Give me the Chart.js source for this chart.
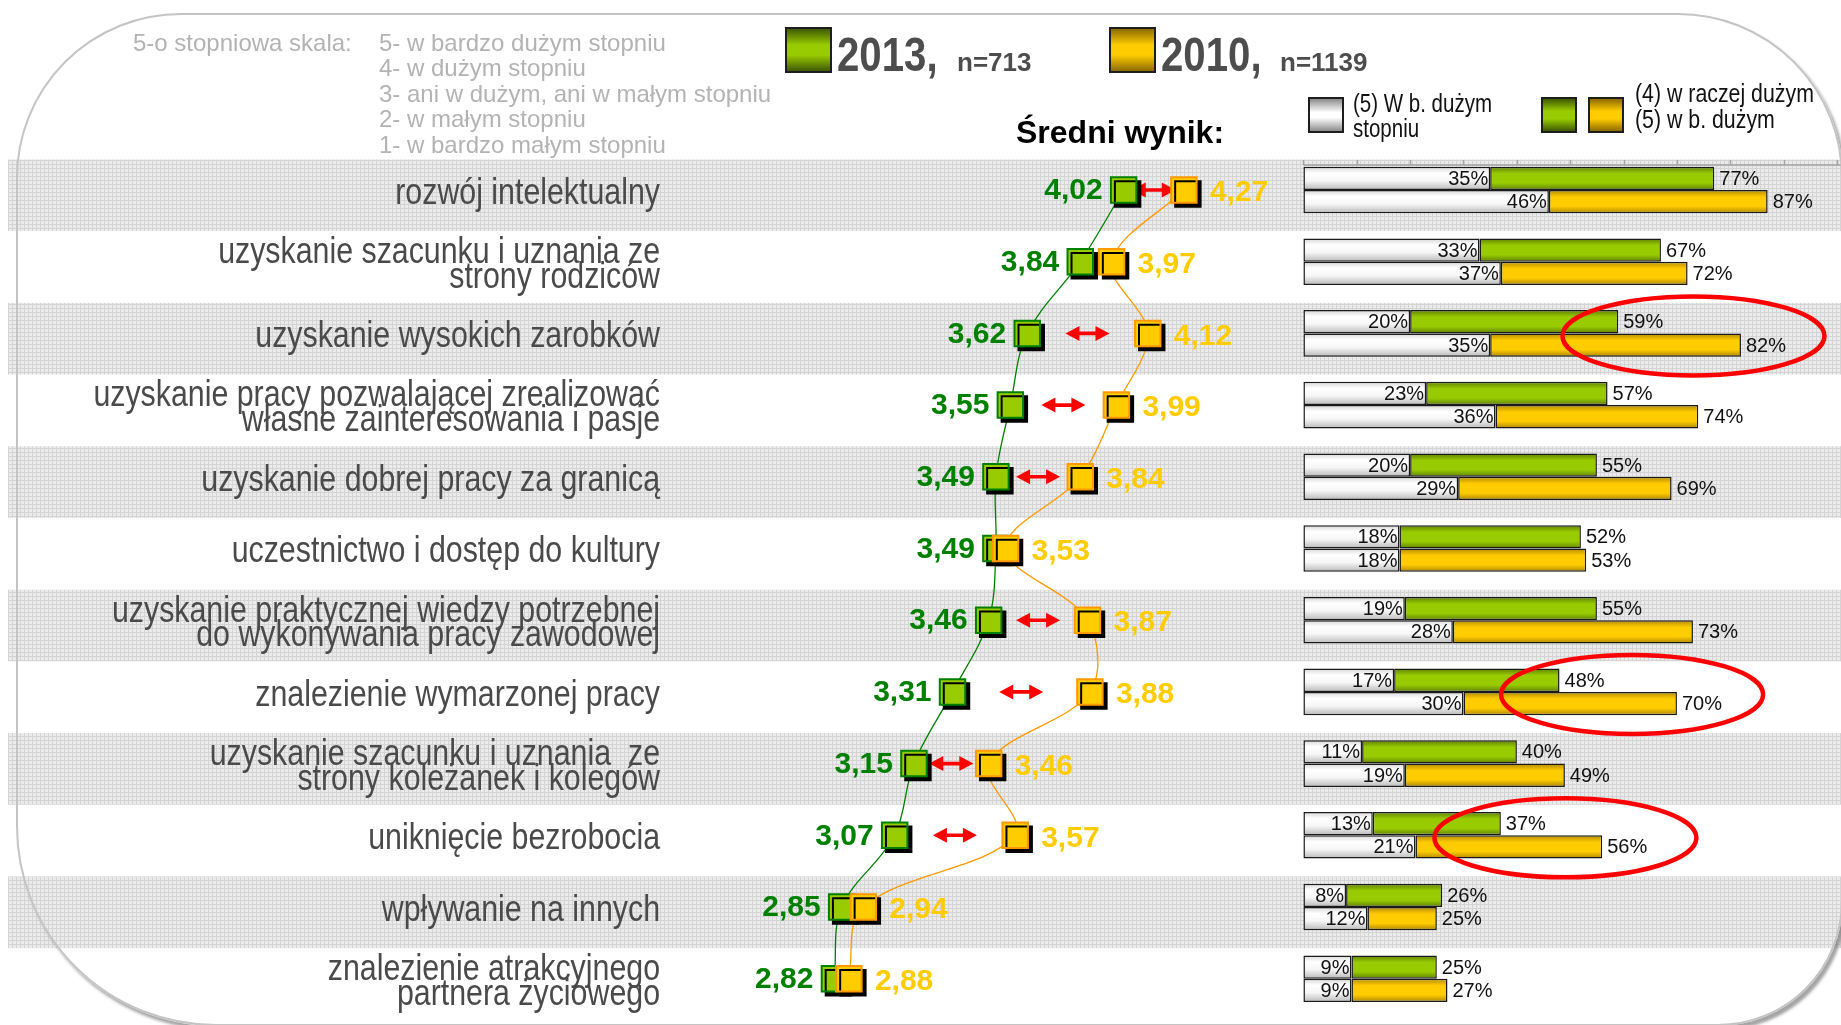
<!DOCTYPE html>
<html lang="pl">
<head>
<meta charset="utf-8">
<title>Średni wynik 2013 vs 2010</title>
<script src="https://cdn.jsdelivr.net/npm/chart.js"></script>
<style>
html,body{margin:0;padding:0;background:#fff;width:1841px;height:1025px;overflow:hidden;}
#stage{position:relative;width:1841px;height:1025px;}
#chart{position:absolute;left:0;top:0;z-index:1;}
#frame{position:absolute;left:16px;top:13px;width:1827px;height:1013px;box-sizing:border-box;border:2px solid #c4c4c4;border-radius:165px 165px 125px 200px;box-shadow:3px 4px 3px rgba(90,90,90,.55);pointer-events:none;z-index:2;}
.t{position:absolute;white-space:pre;z-index:3;transform-origin:0 0;}
.sq{position:absolute;box-sizing:border-box;border:2px solid #1e1e1e;z-index:3;}
</style>
</head>
<body>
<div id="stage"><canvas id="chart" width="1841" height="1025"></canvas><div id="frame"></div></div>
<script>
// ---------------- DATA ----------------
const categories = [
  'rozwój intelektualny',
  ['uzyskanie szacunku i uznania ze', 'strony rodziców'],
  'uzyskanie wysokich zarobków',
  ['uzyskanie pracy pozwalającej zrealizować', 'własne zainteresowania i pasje'],
  'uzyskanie dobrej pracy za granicą',
  'uczestnictwo i dostęp do kultury',
  ['uzyskanie praktycznej wiedzy potrzebnej', 'do wykonywania pracy zawodowej'],
  'znalezienie wymarzonej pracy',
  ['uzyskanie szacunku i uznania  ze', 'strony koleżanek i kolegów'],
  'uniknięcie bezrobocia',
  'wpływanie na innych',
  ['znalezienie atrakcyjnego', 'partnera życiowego']
];
const mean2013 = [4.02, 3.84, 3.62, 3.55, 3.49, 3.49, 3.46, 3.31, 3.15, 3.07, 2.85, 2.82];
const mean2010 = [4.27, 3.97, 4.12, 3.99, 3.84, 3.53, 3.87, 3.88, 3.46, 3.57, 2.94, 2.88];
const significantChange = [true, false, true, true, true, false, true, true, true, true, false, false];
const veryHigh2013 = [35, 33, 20, 23, 20, 18, 19, 17, 11, 13, 8, 9];
const high2013     = [77, 67, 59, 57, 55, 52, 55, 48, 40, 37, 26, 25];
const veryHigh2010 = [46, 37, 35, 36, 29, 18, 28, 30, 19, 21, 12, 9];
const high2010     = [87, 72, 82, 74, 69, 53, 73, 70, 49, 56, 25, 27];
const highlightedRows = [2, 7, 9];
const barTicks = [0, 10, 20, 30, 40, 50, 60, 70, 80, 90, 100];
const years = ['2013', '2010'];
const sampleSizes = [713, 1139];
const scaleTitle = '5-o stopniowa skala:';
const scaleLevels = ['5- w bardzo dużym stopniu', '4- w dużym stopniu', '3- ani w dużym, ani w małym stopniu', '2- w małym stopniu', '1- w bardzo małym stopniu'];
const meanTitle = 'Średni wynik:';
const legendWhite = ['(5) W b. dużym', 'stopniu'];
const legendColour = ['(4) w raczej dużym', '(5) w b. dużym'];

// ---------------- FONTS ----------------
function hasFont(name) {
  const c = document.createElement('canvas').getContext('2d');
  const s = 'rozwój intelektualny WWW 0123';
  c.font = '40px monospace'; const a = c.measureText(s).width;
  c.font = '40px "' + name + '", monospace'; const b = c.measureText(s).width;
  return Math.abs(a - b) > 0.5;
}
const NARROW_OK = hasFont('Liberation Sans Narrow');
const FONT_REG = '"Liberation Sans", Arial, sans-serif';
const FONT_NAR = NARROW_OK ? '"Liberation Sans Narrow", "Arial Narrow", sans-serif' : FONT_REG;
const SX = NARROW_OK ? 1 : 0.82;   // horizontal squeeze when no narrow face exists

// ---------------- HEADER (HTML text) ----------------
const stage = document.getElementById('stage');
function addText(txt, left, baseline, size, family, weight, color, sx) {
  const d = document.createElement('div');
  d.className = 't';
  d.textContent = txt;
  d.style.font = (weight || 'normal') + ' ' + size + 'px ' + family;
  d.style.lineHeight = '0';
  d.style.color = color;
  d.style.left = left + 'px';
  d.style.top = (baseline - 0.3465 * size) + 'px';
  if (sx && sx !== 1) d.style.transform = 'scaleX(' + sx + ')';
  stage.appendChild(d);
}
function addSquare(left, top, w, h, bg) {
  const d = document.createElement('div');
  d.className = 'sq';
  Object.assign(d.style, {left: left + 'px', top: top + 'px', width: w + 'px', height: h + 'px', background: bg});
  stage.appendChild(d);
}
const G_GREEN = 'linear-gradient(#3f5a00, #99cc00 38%, #99cc00 62%, #3f5a00)';
const G_ORANGE = 'linear-gradient(#8c6b00, #ffcc00 38%, #ffcc00 62%, #8c6b00)';
const G_WHITE = 'linear-gradient(#8c8c8c, #ffffff 42%, #ffffff 58%, #8c8c8c)';

addText(scaleTitle, 133, 51, 24, FONT_REG, 'normal', '#b3b3b3');
scaleLevels.forEach((s, k) => addText(s, 379, 51 + k * 25.5, 24, FONT_REG, 'normal', '#b3b3b3'));

addSquare(785, 27, 47, 46, G_GREEN);
addText(years[0] + ',', 837, 71, 49, FONT_NAR, 'bold', '#4d4d4d', SX);
addText('n=' + sampleSizes[0], 957, 71.5, 26, FONT_REG, 'bold', '#4d4d4d');
addSquare(1109, 27, 47, 46, G_ORANGE);
addText(years[1] + ',', 1161, 71, 49, FONT_NAR, 'bold', '#4d4d4d', SX);
addText('n=' + sampleSizes[1], 1280, 71.5, 26, FONT_REG, 'bold', '#4d4d4d');

addText(meanTitle, 1016, 143, 32, FONT_REG, 'bold', '#000');

addSquare(1308, 97, 36, 36, G_WHITE);
addText(legendWhite[0], 1353, 112, 25, FONT_NAR, 'normal', '#111', SX);
addText(legendWhite[1], 1353, 137, 25, FONT_NAR, 'normal', '#111', SX);
addSquare(1541, 97, 36, 36, G_GREEN);
addSquare(1588, 97, 36, 36, G_ORANGE);
addText(legendColour[0], 1635, 102, 26, FONT_NAR, 'normal', '#111', SX);
addText(legendColour[1], 1635, 128, 26, FONT_NAR, 'normal', '#111', SX);

// ---------------- CHART ----------------
const WHITE_STOPS = [[0, '#d6d6d6'], [0.28, '#ffffff'], [0.6, '#f6f6f6'], [1, '#b8b8b8']];
const GREEN_STOPS = [[0, '#5f8000'], [0.3, '#99cc00'], [0.7, '#99cc00'], [1, '#5f8000']];
const ORANGE_STOPS = [[0, '#b38a00'], [0.3, '#ffcc00'], [0.7, '#ffcc00'], [1, '#ad8500']];
const CAT_PCT = 0.65;

function barGradient(stops, slot) {
  return (c) => {
    const chart = c.chart;
    if (c.type !== 'data' || !chart.chartArea || !chart.scales.y) return stops[1][1];
    const ys = chart.scales.y;
    const pitch = ys.getPixelForValue(1) - ys.getPixelForValue(0);
    const h = pitch * CAT_PCT / 2;
    const center = ys.getPixelForValue(c.dataIndex);
    const top = slot === 0 ? center - h : center;
    const g = chart.ctx.createLinearGradient(0, top, 0, top + h);
    stops.forEach(s => g.addColorStop(s[0], s[1]));
    return g;
  };
}
const MARKER_SETS = new Set([2, 3]);

let bandPattern = null;
function makePattern(ctx) {
  const pc = document.createElement('canvas'); pc.width = 4; pc.height = 4;
  const p = pc.getContext('2d');
  p.fillStyle = '#ebebeb'; p.fillRect(0, 0, 4, 4);
  p.fillStyle = '#d4d4d4'; p.fillRect(0, 0, 4, 1); p.fillRect(0, 0, 1, 4);
  return ctx.createPattern(pc, 'repeat');
}

const decorPlugin = {
  id: 'decor',
  beforeDraw(chart) {
    const ctx = chart.ctx, ys = chart.scales.y;
    const pitch = ys.getPixelForValue(1) - ys.getPixelForValue(0);
    if (!bandPattern) bandPattern = makePattern(ctx);
    ctx.save();
    ctx.fillStyle = bandPattern;
    categories.forEach((c, i) => {
      if (i % 2) return;
      const top = ys.getPixelForValue(i) - pitch / 2 + 5.3;
      ctx.fillRect(8, top, chart.width - 8, pitch);
    });
    // category labels (right aligned against the axis)
    ctx.fillStyle = '#4a4a4a';
    ctx.font = '37px ' + FONT_NAR;
    ctx.textAlign = 'right';
    ctx.textBaseline = 'middle';
    const lh = 24.7, right = chart.chartArea.left - 25;
    categories.forEach((c, i) => {
      const lines = Array.isArray(c) ? c : [c];
      const y0 = ys.getPixelForValue(i) - (lines.length - 1) * lh / 2 + 3.5;
      lines.forEach((ln, k) => {
        ctx.save();
        ctx.translate(right, y0 + k * lh);
        ctx.scale(SX, 1);
        ctx.fillText(ln, 0, 0);
        ctx.restore();
      });
    });
    ctx.restore();
  },
  beforeDatasetsDraw(chart) {
    const ctx = chart.ctx, xb = chart.scales.xb, xd = chart.scales.xd, ys = chart.scales.y;
    const axisY = chart.chartArea.top + 10.8;
    ctx.save();
    ctx.strokeStyle = '#a3a3a3'; ctx.lineWidth = 1.5;
    ctx.beginPath();
    ctx.moveTo(xb.getPixelForValue(0), axisY); ctx.lineTo(chart.width, axisY);
    barTicks.forEach(t => { const x = Math.round(xb.getPixelForValue(t)) + 0.5; ctx.moveTo(x, axisY); ctx.lineTo(x, axisY - 5); });
    ctx.stroke();
    ctx.fillStyle = '#ff0000';
    significantChange.forEach((s, i) => {
      if (!s) return;
      const mid = (xd.getPixelForValue(mean2013[i]) + xd.getPixelForValue(mean2010[i])) / 2;
      const y = ys.getPixelForValue(i);
      const half = 22, head = 14, hh = 7.5, sh = 1.8;
      ctx.beginPath();
      ctx.moveTo(mid - half, y);
      ctx.lineTo(mid - half + head, y - hh);
      ctx.lineTo(mid - half + head, y - sh);
      ctx.lineTo(mid + half - head, y - sh);
      ctx.lineTo(mid + half - head, y - hh);
      ctx.lineTo(mid + half, y);
      ctx.lineTo(mid + half - head, y + hh);
      ctx.lineTo(mid + half - head, y + sh);
      ctx.lineTo(mid - half + head, y + sh);
      ctx.lineTo(mid - half + head, y + hh);
      ctx.closePath();
      ctx.fill();
    });
    ctx.restore();
  },
  beforeDatasetDraw(chart, args) {
    if (MARKER_SETS.has(args.index)) {
      const ctx = chart.ctx;
      ctx.save();
      ctx.shadowColor = '#000'; ctx.shadowOffsetX = 4; ctx.shadowOffsetY = 4; ctx.shadowBlur = 0;
    }
  },
  afterDatasetDraw(chart, args) {
    if (MARKER_SETS.has(args.index)) chart.ctx.restore();
  },
  afterDatasetsDraw(chart) {
    const ctx = chart.ctx, xd = chart.scales.xd, xb = chart.scales.xb, ys = chart.scales.y;
    ctx.save();
    ctx.font = 'bold 30px ' + FONT_REG;
    ctx.textBaseline = 'middle';
    const fmt = v => v.toFixed(2).replace('.', ',');
    mean2013.forEach((v, i) => {
      ctx.fillStyle = '#008000'; ctx.textAlign = 'right';
      ctx.fillText(fmt(v), xd.getPixelForValue(v) - 21, ys.getPixelForValue(i) + 1);
    });
    mean2010.forEach((v, i) => {
      ctx.fillStyle = '#ffcc00'; ctx.textAlign = 'left';
      ctx.fillText(fmt(v), xd.getPixelForValue(v) + 26, ys.getPixelForValue(i) + 3);
    });
    ctx.font = '20px ' + FONT_REG;
    ctx.fillStyle = '#111';
    [[4, 5, veryHigh2013, high2013], [6, 7, veryHigh2010, high2010]].forEach(([wi, ci, p5, tot]) => {
      const wm = chart.getDatasetMeta(wi).data, cm = chart.getDatasetMeta(ci).data;
      p5.forEach((v, i) => {
        ctx.textAlign = 'right'; ctx.fillText(v + '%', wm[i].x - 2, wm[i].y + 1);
        ctx.textAlign = 'left'; ctx.fillText(tot[i] + '%', cm[i].x + 5, cm[i].y + 1);
      });
    });
    ctx.strokeStyle = '#ff0000'; ctx.lineWidth = 4.5;
    highlightedRows.forEach(r => {
      const cx = xb.getPixelForValue((high2013[r] + high2010[r]) / 2 + 2.6);
      const cy = ys.getPixelForValue(r) + 2.5;
      ctx.beginPath(); ctx.ellipse(cx, cy, 131, 39.5, 0, 0, Math.PI * 2); ctx.stroke();
    });
    ctx.restore();
  }
};

new Chart(document.getElementById('chart'), {
  type: 'bar',
  data: {
    labels: categories,
    datasets: [
      {type: 'line', label: 'linia ' + years[0], data: mean2013, xAxisID: 'xd', yAxisID: 'y', indexAxis: 'y',
       borderColor: '#008000', borderWidth: 1.3, pointRadius: 0, tension: 0.35, fill: false, order: 10},
      {type: 'line', label: 'linia ' + years[1], data: mean2010, xAxisID: 'xd', yAxisID: 'y', indexAxis: 'y',
       borderColor: '#ff9900', borderWidth: 1.3, pointRadius: 0, tension: 0.35, fill: false, order: 9},
      {type: 'line', label: years[0], data: mean2013, xAxisID: 'xd', yAxisID: 'y', indexAxis: 'y', showLine: false,
       pointStyle: 'rect', pointRadius: 18, pointBackgroundColor: '#99cc00', pointBorderColor: '#008000', pointBorderWidth: 2, order: 8},
      {type: 'line', label: years[1], data: mean2010, xAxisID: 'xd', yAxisID: 'y', indexAxis: 'y', showLine: false,
       pointStyle: 'rect', pointRadius: 18, pointBackgroundColor: '#ffcc00', pointBorderColor: '#ff9900', pointBorderWidth: 2, order: 7},
      {label: '(5) ' + years[0], data: veryHigh2013, stack: 's' + years[0], xAxisID: 'xb', yAxisID: 'y',
       backgroundColor: barGradient(WHITE_STOPS, 0), order: 0},
      {label: '(4)+(5) ' + years[0], data: high2013.map((t, i) => t - veryHigh2013[i]), stack: 's' + years[0], xAxisID: 'xb', yAxisID: 'y',
       backgroundColor: barGradient(GREEN_STOPS, 0), order: 0},
      {label: '(5) ' + years[1], data: veryHigh2010, stack: 's' + years[1], xAxisID: 'xb', yAxisID: 'y',
       backgroundColor: barGradient(WHITE_STOPS, 1), order: 0},
      {label: '(4)+(5) ' + years[1], data: high2010.map((t, i) => t - veryHigh2010[i]), stack: 's' + years[1], xAxisID: 'xb', yAxisID: 'y',
       backgroundColor: barGradient(ORANGE_STOPS, 1), order: 0}
    ]
  },
  options: {
    indexAxis: 'y',
    responsive: false,
    animation: false,
    devicePixelRatio: 1,
    layout: {autoPadding: false, padding: {top: 154.15, bottom: 10.45, left: 0, right: 4}},
    datasets: {bar: {categoryPercentage: CAT_PCT, barPercentage: 1, borderColor: '#1a1a1a', borderWidth: 1.5, borderSkipped: false}},
    plugins: {legend: {display: false}, tooltip: {enabled: false}},
    scales: {
      y: {
        type: 'category', position: 'left', offset: true, stacked: true,
        grid: {display: false, drawTicks: false}, border: {display: false},
        ticks: {display: false, autoSkip: false},
        afterFit(s) { s.width = 685; s.paddingTop = 0; s.paddingBottom = 0; }
      },
      xd: {type: 'linear', display: false, min: 2.2, max: 6.98},
      xb: {type: 'linear', display: false, min: -115.9, max: 100, stacked: true}
    }
  },
  plugins: [decorPlugin]
});
</script>
</body>
</html>
